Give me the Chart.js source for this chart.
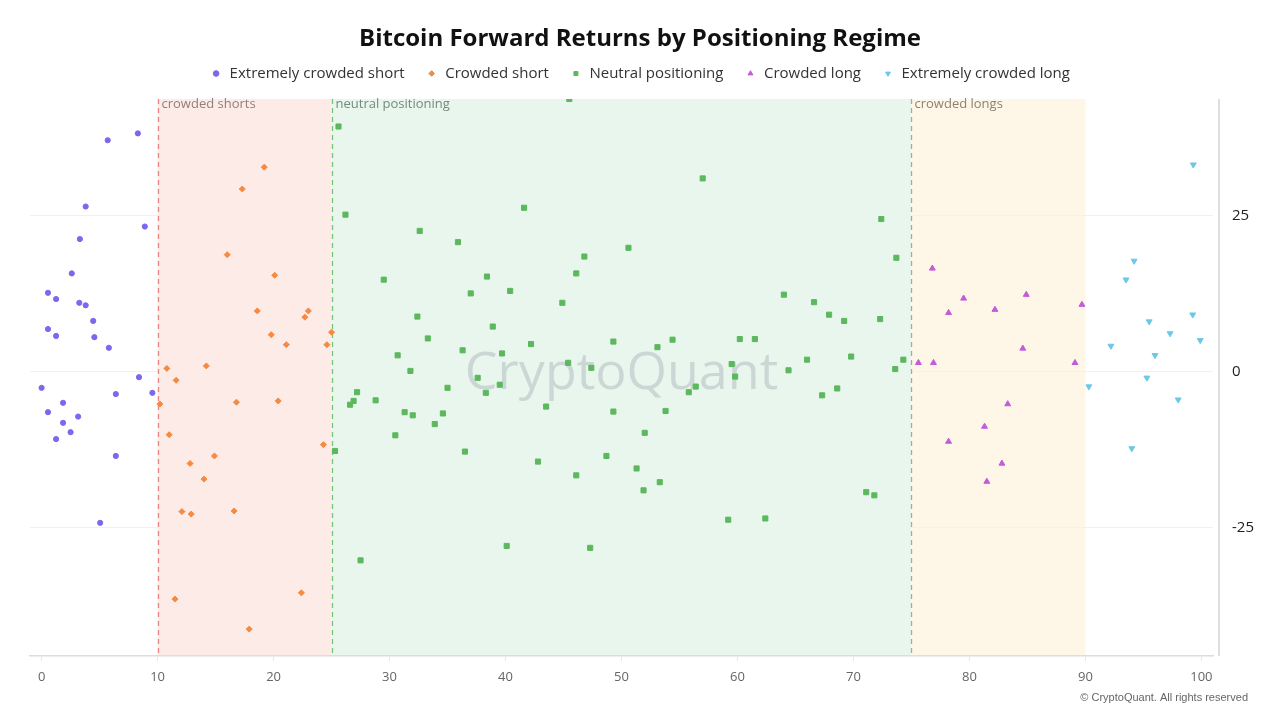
<!DOCTYPE html>
<html>
<head>
<meta charset="utf-8">
<script src="https://cdn.jsdelivr.net/npm/chart.js@4.4.1/dist/chart.umd.min.js"></script>
<style>
  html, body { margin: 0; padding: 0; background: #fff; }
  #wrap { width: 1280px; height: 720px; }
</style>
</head>
<body>
<div id="wrap"><canvas id="regimeChart" width="1280" height="720"></canvas></div>
<script>
// positioning score (x) vs forward return % (y), one pair of arrays per regime
var extShortX = [5.7, 8.3, 3.8, 8.9, 3.3, 2.6, 0.55, 1.25, 3.25, 3.8, 4.45, 0.55, 1.25, 4.55, 5.8, 8.4, 0.0, 6.4, 9.55, 1.85, 0.55, 3.15, 1.85, 2.5, 1.25, 6.4, 5.05];
var extShortY = [37.0, 38.1, 26.4, 23.2, 21.2, 15.7, 12.6, 11.6, 11.0, 10.6, 8.1, 6.8, 5.7, 5.5, 3.8, -0.9, -2.6, -3.6, -3.4, -5.0, -6.5, -7.2, -8.2, -9.7, -10.8, -13.5, -24.2];

var shortX = [19.2, 17.3, 16.0, 20.1, 18.6, 23.0, 22.7, 25.0, 19.8, 21.1, 24.6, 10.8, 14.2, 11.6, 10.2, 16.8, 20.4, 11.0, 24.3, 14.9, 12.8, 14.0, 12.1, 12.9, 16.6, 11.5, 22.4, 17.9];
var shortY = [32.7, 29.2, 18.7, 15.4, 9.7, 9.7, 8.7, 6.3, 5.9, 4.3, 4.3, 0.5, 0.9, -1.4, -5.2, -4.9, -4.7, -10.1, -11.7, -13.5, -14.7, -17.2, -22.4, -22.8, -22.3, -36.4, -35.4, -41.2];

var neutralX = [45.5, 25.6, 26.2, 41.6, 32.6, 35.9, 46.8, 46.1, 29.5, 38.4, 37.0, 40.4, 44.9, 32.4, 38.9, 33.3, 49.3, 42.2, 30.7, 36.3, 39.7, 45.4, 47.4, 31.8, 37.6,
  39.5, 35.0, 38.3, 27.2, 26.9, 26.6, 28.8, 31.3, 32.0, 34.6, 43.5, 49.3, 33.9, 30.5, 25.3, 36.5, 42.8, 48.7, 46.1, 40.1, 47.3, 27.5,
  57.0, 72.4, 50.6, 73.7, 64.0, 66.6, 67.9, 69.2, 72.3, 54.4, 53.1, 60.2, 61.5, 66.0, 69.8, 59.5, 64.4, 74.3, 73.6, 59.8,
  56.4, 55.8, 67.3, 68.6, 53.8, 52.0, 51.3, 53.3, 51.9, 71.1, 71.8, 59.2, 62.4];
var neutralY = [43.6, 39.2, 25.1, 26.2, 22.5, 20.7, 18.4, 15.7, 14.7, 15.2, 12.5, 12.9, 11.0, 8.8, 7.2, 5.3, 4.8, 4.4, 2.6, 3.4, 2.9, 1.4, 0.6, 0.1, -1.0,
  -2.1, -2.6, -3.4, -3.3, -4.7, -5.3, -4.6, -6.5, -7.0, -6.7, -5.6, -6.4, -8.4, -10.2, -12.7, -12.8, -14.4, -13.5, -16.6, -27.9, -28.2, -30.2,
  30.9, 24.4, 19.8, 18.2, 12.3, 11.1, 9.1, 8.1, 8.4, 5.1, 3.9, 5.2, 5.2, 1.9, 2.4, 1.2, 0.2, 1.9, 0.4, -0.8,
  -2.4, -3.3, -3.8, -2.7, -6.3, -9.8, -15.5, -17.7, -19.0, -19.3, -19.8, -23.7, -23.5];

var longX = [76.8, 79.5, 78.2, 82.2, 84.9, 89.7, 84.6, 75.6, 76.9, 89.1, 83.3, 81.3, 78.2, 82.8, 81.5];
var longY = [16.5, 11.7, 9.4, 9.9, 12.3, 10.7, 3.7, 1.4, 1.4, 1.4, -5.2, -8.8, -11.2, -14.7, -17.6];

var extLongX = [99.3, 94.2, 93.5, 95.5, 99.25, 97.3, 99.9, 92.2, 96.0, 95.3, 90.3, 98.0, 94.0];
var extLongY = [33.1, 17.7, 14.7, 8.0, 9.1, 6.1, 5.0, 4.1, 2.6, -1.0, -2.4, -4.5, -12.3];

// regime bands on the x axis
var bandNames = ['crowded shorts', 'neutral positioning', 'crowded longs'];
var bandFrom = [10, 25, 75];
var bandTo = [25, 75, 90];

var xTicks = [0, 10, 20, 30, 40, 50, 60, 70, 80, 90, 100];
var yTicks = [-25, 0, 25];

function pairs(xs, ys) {
  return xs.map(function (x, i) { return { x: x, y: ys[i] }; });
}

var bandFill = ['#fcebe7', '#e9f6ee', '#fef6e6'];
var bandLine = ['#e88585', '#76c576', '#a8a8a8'];
var bandText = ['#8f7f7f', '#738a7e', '#8c8272'];

// shaded regimes go under the grid
var bandsPlugin = {
  id: 'bands',
  beforeInit: function (chart) {
    // legend height is fixed so the plot starts right under it
    var fit = chart.legend.fit;
    chart.legend.fit = function () { fit.call(this); this.height = 54; };
  },
  beforeDraw: function (chart) {
    var ctx = chart.ctx, a = chart.chartArea, xs = chart.scales.x;
    ctx.save();
    for (var i = 0; i < bandFrom.length; i++) {
      var l = xs.getPixelForValue(bandFrom[i]);
      var r = xs.getPixelForValue(bandTo[i]);
      ctx.fillStyle = bandFill[i];
      ctx.fillRect(l, a.top, r - l, a.bottom - a.top);
    }
    ctx.restore();
  },
  beforeDatasetsDraw: function (chart) {
    var ctx = chart.ctx, a = chart.chartArea, xs = chart.scales.x;
    ctx.save();
    // watermark
    ctx.font = '500 52px "Open Sans", sans-serif';
    ctx.fillStyle = 'rgba(150,162,165,0.36)';
    ctx.textAlign = 'center';
    ctx.textBaseline = 'middle';
    ctx.fillText('CryptoQuant', (a.left + a.right) / 2, 374);

    ctx.setLineDash([5, 4]);
    ctx.lineWidth = 1.3;
    ctx.font = '13px "Open Sans", sans-serif';
    ctx.textAlign = 'left';
    ctx.textBaseline = 'top';
    for (var i = 0; i < bandFrom.length; i++) {
      var l = Math.round(xs.getPixelForValue(bandFrom[i])) + 0.5;
      ctx.strokeStyle = bandLine[i];
      ctx.beginPath();
      ctx.moveTo(l, a.top);
      ctx.lineTo(l, a.bottom);
      ctx.stroke();
      ctx.fillStyle = bandText[i];
      ctx.fillText(bandNames[i], l + 3, a.top - 1);
    }
    ctx.restore();
  },
  afterDraw: function (chart) {
    var ctx = chart.ctx, a = chart.chartArea;
    ctx.save();
    // right value axis line, set a little off the plot
    ctx.strokeStyle = '#d2d3da';
    ctx.lineWidth = 1.5;
    ctx.beginPath();
    ctx.moveTo(a.right + 6, a.top);
    ctx.lineTo(a.right + 6, a.bottom);
    ctx.stroke();
    ctx.font = '11px "Liberation Sans", Arial, sans-serif';
    ctx.fillStyle = '#666';
    ctx.textAlign = 'right';
    ctx.textBaseline = 'middle';
    ctx.fillText('\u00a9 CryptoQuant. All rights reserved', 1248, 698);
    ctx.restore();
  }
};

Chart.defaults.font.family = "'Open Sans', 'Noto Sans', sans-serif";

var ctx = document.getElementById('regimeChart').getContext('2d');
var chart = new Chart(ctx, {
  type: 'scatter',
  data: {
    datasets: [{
      label: 'Extremely crowded short',
      data: pairs(extShortX, extShortY),
      backgroundColor: '#7b68ee',
      borderColor: '#7b68ee',
      pointStyle: 'circle',
      pointRadius: 2.6
    }, {
      label: 'Crowded short',
      data: pairs(shortX, shortY),
      backgroundColor: '#f58a42',
      borderColor: '#f58a42',
      pointStyle: 'rectRot',
      pointRadius: 3
    }, {
      label: 'Neutral positioning',
      data: pairs(neutralX, neutralY),
      backgroundColor: '#5cb85c',
      borderColor: '#5cb85c',
      pointStyle: 'rect',
      pointRadius: 3.6
    }, {
      label: 'Crowded long',
      data: pairs(longX, longY),
      backgroundColor: '#c45bd9',
      borderColor: '#c45bd9',
      pointStyle: 'triangle',
      pointRadius: 3.4
    }, {
      label: 'Extremely crowded long',
      data: pairs(extLongX, extLongY),
      backgroundColor: '#6cc8e6',
      borderColor: '#6cc8e6',
      pointStyle: 'triangle',
      pointRotation: 180,
      rotation: 180,
      pointRadius: 3.4
    }]
  },
  options: {
    responsive: false,
    animation: false,
    layout: { padding: 0 },
    plugins: {
      title: {
        display: true,
        text: 'Bitcoin Forward Returns by Positioning Regime',
        color: '#111',
        font: { size: 24, weight: 'bold', lineHeight: 1 },
        padding: { top: 27, bottom: -6 }
      },
      legend: {
        labels: {
          usePointStyle: true,
          boxWidth: 12,
          boxHeight: 4,
          padding: 21,
          color: '#333',
          font: { size: 15 }
        }
      },
      tooltip: { enabled: false }
    },
    scales: {
      x: {
        type: 'linear',
        min: -1,
        max: 101,
        afterFit: function (s) { s.height = 64; },
        afterBuildTicks: function (s) { s.ticks = xTicks.map(function (v) { return { value: v }; }); },
        grid: { drawOnChartArea: false, drawTicks: true, tickLength: 5, color: '#e6e6e6' },
        border: { display: true, color: '#dcdce3', width: 1.5 },
        ticks: { color: '#666', padding: 8, font: { size: 13 } }
      },
      y: {
        type: 'linear',
        position: 'right',
        min: -45.5,
        max: 43.6,
        afterFit: function (s) { s.width = 67; },
        afterBuildTicks: function (s) { s.ticks = yTicks.map(function (v) { return { value: v }; }); },
        grid: { drawTicks: false, color: '#f1f1f1' },
        border: { display: false },
        ticks: { color: '#222', padding: 19, font: { size: 15 } }
      },
      // empty left gutter, keeps title and legend centred on the page
      gutter: {
        type: 'linear',
        position: 'left',
        afterFit: function (s) { s.width = 30; },
        grid: { display: false },
        border: { display: false },
        ticks: { display: false }
      }
    }
  },
  plugins: [bandsPlugin]
});
</script>
</body>
</html>
